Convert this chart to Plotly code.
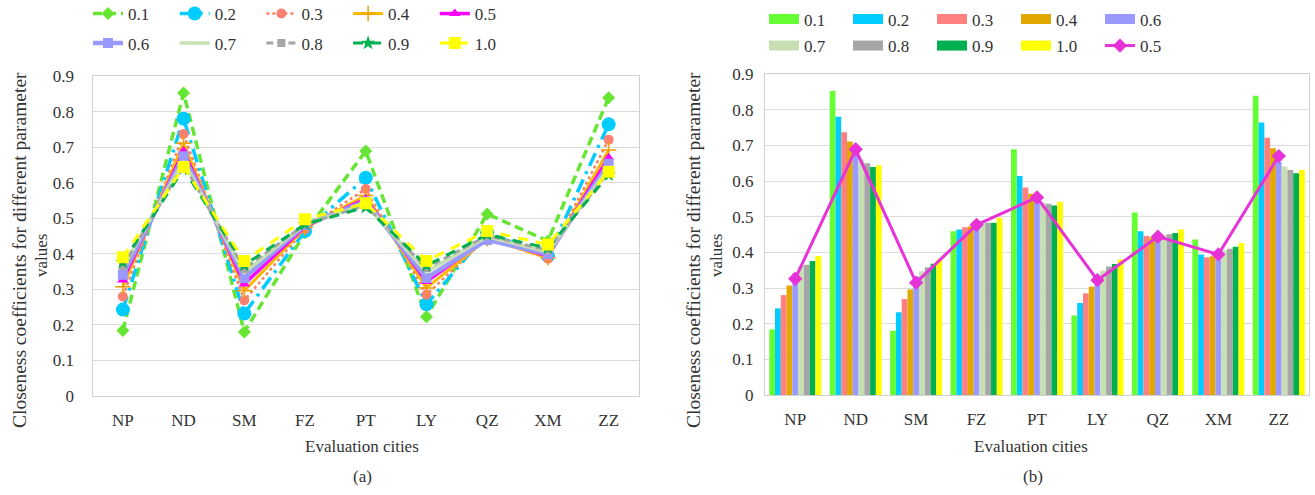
import plotly.graph_objects as go

cities = ["NP", "ND", "SM", "FZ", "PT", "LY", "QZ", "XM", "ZZ"]
params = ["0.1", "0.2", "0.3", "0.4", "0.5", "0.6", "0.7", "0.8", "0.9", "1.0"]
p01 = [0.184, 0.852, 0.180, 0.459, 0.689, 0.223, 0.512, 0.436, 0.839]
p02 = [0.243, 0.780, 0.232, 0.464, 0.614, 0.258, 0.459, 0.394, 0.764]
p03 = [0.280, 0.737, 0.269, 0.470, 0.582, 0.285, 0.446, 0.386, 0.721]
p04 = [0.307, 0.711, 0.296, 0.473, 0.564, 0.304, 0.442, 0.389, 0.692]
p05 = [0.326, 0.689, 0.315, 0.477, 0.554, 0.322, 0.444, 0.394, 0.670]
p06 = [0.341, 0.674, 0.332, 0.481, 0.547, 0.332, 0.439, 0.399, 0.653]
p07 = [0.362, 0.660, 0.347, 0.483, 0.539, 0.349, 0.448, 0.405, 0.641]
p08 = [0.365, 0.650, 0.358, 0.483, 0.536, 0.360, 0.451, 0.410, 0.631]
p09 = [0.376, 0.639, 0.368, 0.483, 0.531, 0.367, 0.454, 0.416, 0.622]
p10 = [0.390, 0.644, 0.380, 0.497, 0.542, 0.380, 0.464, 0.426, 0.631]
series = [p01, p02, p03, p04, p05, p06, p07, p08, p09, p10]

y_ticks = [0, 0.1, 0.2, 0.3, 0.4, 0.5, 0.6, 0.7, 0.8, 0.9]
y_ticktext = ["0", "0.1", "0.2", "0.3", "0.4", "0.5", "0.6", "0.7", "0.8", "0.9"]

W, H = 1315, 495
FONT = "'Liberation Serif', 'Times New Roman', Times, serif"
TXT = "#333333"


def fx(px):
    return px / W


def fy(py):
    return 1 - py / H


# styles for panel (a)
line_styles = [
    dict(color="#66E633", width=3.5, dash="9px,5px"),
    dict(color="#00CCFF", width=3.5, dash="14px,6px,3px,6px"),
    dict(color="#F4845F", width=2.5, dash="dot"),
    dict(color="#FFB800", width=3, dash="solid"),
    dict(color="#FF00FF", width=3.5, dash="solid"),
    dict(color="#9999FF", width=4.5, dash="solid"),
    dict(color="#C6E0B4", width=3.5, dash="solid"),
    dict(color="#A6A6A6", width=3, dash="7px,4px"),
    dict(color="#00B050", width=3, dash="10px,8px"),
    dict(color="#FFFF00", width=3, dash="10px,8px"),
]
marker_styles = [
    dict(symbol="diamond", size=10, color="#66E633"),
    dict(symbol="circle", size=14, color="#00CCFF"),
    dict(symbol="circle", size=10, color="#FA8072"),
    dict(symbol="cross-thin", size=11, color="#F0A000", line=dict(width=1.5, color="#F0A000")),
    dict(symbol="triangle-up", size=10, color="#FF00FF"),
    dict(symbol="square", size=10, color="#9999FF"),
    dict(symbol="circle", size=1, color="#C6E0B4"),
    dict(symbol="square", size=8, color="#A6A6A6"),
    dict(symbol="star", size=11, color="#00B050"),
    dict(symbol="square", size=12, color="#FFFF00"),
]
modes = ["lines+markers"] * 6 + ["lines"] + ["lines+markers"] * 3

bar_colors = {"0.1": "#66FF33", "0.2": "#00CCFF", "0.3": "#FF8080", "0.4": "#E0A800",
              "0.6": "#9999FF", "0.7": "#C6E0B4", "0.8": "#A6A6A6", "0.9": "#00B050",
              "1.0": "#FFFF00"}
line05_color = "#E632D6"

fig = go.Figure()

for i, (name, vals) in enumerate(zip(params, series)):
    fig.add_trace(go.Scatter(
        x=cities, y=vals, name=name, mode=modes[i],
        line=line_styles[i], marker=marker_styles[i],
        xaxis="x", yaxis="y",
        legend="legend" if i < 5 else "legend2",
    ))

bar_order = ["0.1", "0.2", "0.3", "0.4", "0.6", "0.7", "0.8", "0.9", "1.0"]
for name in bar_order:
    vals = series[params.index(name)]
    fig.add_trace(go.Bar(
        x=cities, y=vals, name=name, marker=dict(color=bar_colors[name], line=dict(width=0)),
        xaxis="x2", yaxis="y2", showlegend=False,
    ))
fig.add_trace(go.Scatter(
    x=cities, y=p05, name="0.5", mode="lines+markers",
    line=dict(color=line05_color, width=3),
    marker=dict(symbol="diamond", size=11, color=line05_color),
    xaxis="x2", yaxis="y2", showlegend=False,
))

# legend entries for panel (b)
legend_b = bar_order + ["0.5"]
for k, name in enumerate(legend_b):
    if name == "0.5":
        tr = go.Scatter(x=[None], y=[None], name=name, mode="lines+markers",
                        line=dict(color=line05_color, width=3),
                        marker=dict(symbol="diamond", size=11, color=line05_color),
                        xaxis="x2", yaxis="y2")
    else:
        tr = go.Scatter(x=[None], y=[None], name=name, mode="lines",
                        line=dict(color=bar_colors[name], width=12),
                        xaxis="x2", yaxis="y2")
    tr.legend = "legend3" if k < 5 else "legend4"
    fig.add_trace(tr)

axis_common = dict(showgrid=False, showline=True, mirror=True, linecolor="#D0D0D0",
                   linewidth=1, zeroline=False, ticks="", automargin=False,
                   tickfont=dict(family=FONT, size=17, color=TXT))
yaxis_common = dict(axis_common, range=[0, 0.9], tickvals=y_ticks, ticktext=y_ticktext,
                    showgrid=True, gridcolor="#DCDCDC", gridwidth=1)


def leg(x, y, ew):
    return dict(orientation="h", x=fx(x), y=fy(y), xref="container", yref="container",
                xanchor="left", yanchor="middle",
                entrywidth=ew, entrywidthmode="pixels", bgcolor="rgba(0,0,0,0)",
                font=dict(family=FONT, size=17, color=TXT))


fig.update_layout(
    width=W, height=H,
    margin=dict(l=0, r=0, t=0, b=0, autoexpand=False),
    paper_bgcolor="white", plot_bgcolor="white",
    font=dict(family=FONT, size=17, color=TXT),
    bargap=0.14, bargroupgap=0,
    barmode="group",
    xaxis=dict(axis_common, domain=[fx(92.5), fx(639)], type="category",
               range=[-0.5, 8.5], anchor="y", ticklabelstandoff=9),
    yaxis=dict(yaxis_common, domain=[fy(396), fy(76)], anchor="x",
               ticklabelstandoff=14),
    xaxis2=dict(axis_common, domain=[fx(765), fx(1309)], type="category",
                range=[-0.5, 8.5], anchor="y2", ticklabelstandoff=9),
    yaxis2=dict(yaxis_common, domain=[fy(395), fy(74)], anchor="x2",
                ticklabelstandoff=7),
    legend=leg(88, 14, 41.7),
    legend2=leg(88, 43.5, 41.7),
    legend3=leg(764, 19.5, 39),
    legend4=leg(764, 46, 39),
    showlegend=True,
)

line1 = "Closeness coefficients for different parameter"
annos = [
    dict(text=line1, x=19, y=250, textangle=-90, size=19.5),
    dict(text="values", x=41, y=256, textangle=-90, size=17),
    dict(text=line1, x=693, y=250, textangle=-90, size=19.5),
    dict(text="values", x=716, y=256, textangle=-90, size=17),
    dict(text="Evaluation cities", x=362, y=446, size=17),
    dict(text="Evaluation cities", x=1031, y=446, size=17),
    dict(text="(a)", x=362, y=476, size=17),
    dict(text="(b)", x=1033, y=476, size=17),
]
for a in annos:
    sz = a.pop("size")
    a["x"] = fx(a["x"])
    a["y"] = fy(a["y"])
    fig.add_annotation(xref="paper", yref="paper", xanchor="center", yanchor="middle",
                       showarrow=False, font=dict(family=FONT, size=sz, color=TXT), **a)

# remove the default 8px page margin so the figure fills the window exactly
fig.write_html("out.html", config={"displayModeBar": False},
               post_script="document.body.style.margin='0';")
